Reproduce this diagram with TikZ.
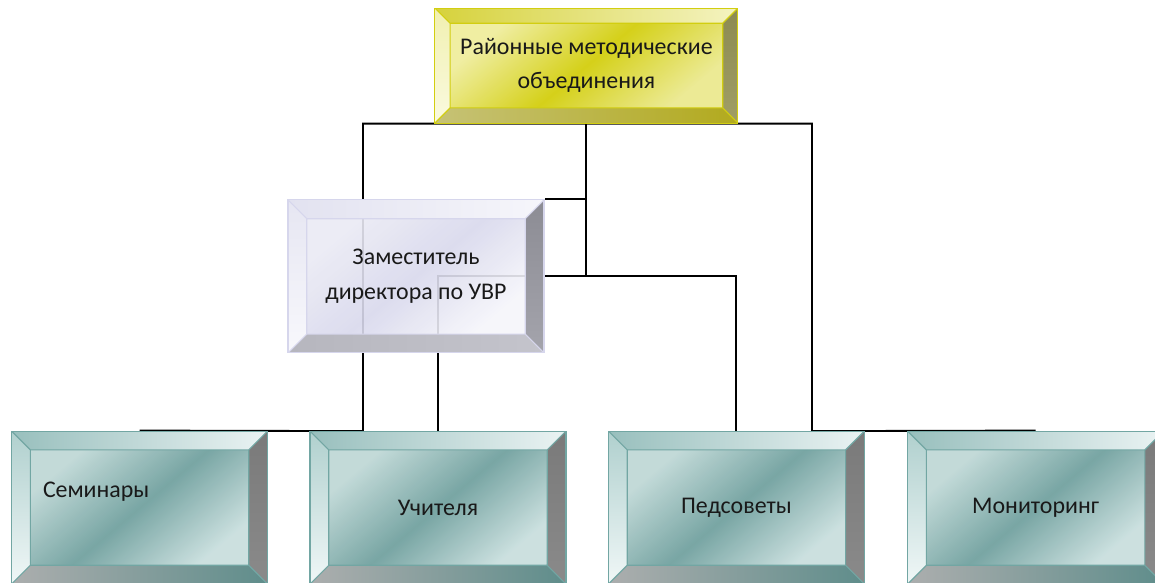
\documentclass[tikz,border=0pt]{standalone}
\usepackage{fontspec}
\setmainfont{Carlito}
\usepackage{tikz}
\usetikzlibrary{calc}

% colour sets: yel = top box, lav = deputy box, tea = lower row
\definecolor{yelFaceA}{HTML}{EEEC98}
\definecolor{yelFaceB}{HTML}{D0CB00}
\definecolor{yelFaceC}{HTML}{EAE88A}
\definecolor{yelTopA}{HTML}{D6D23C}
\definecolor{yelTopB}{HTML}{F4F3C0}
\definecolor{yelLeftA}{HTML}{F1F0B0}
\definecolor{yelLeftB}{HTML}{FAFAE0}
\definecolor{yelRightA}{HTML}{8C8A52}
\definecolor{yelRightB}{HTML}{A09E66}
\definecolor{yelBotA}{HTML}{C6C276}
\definecolor{yelBotB}{HTML}{B2AA1E}
\definecolor{yelEdge}{HTML}{D2CE10}

\definecolor{lavFaceA}{HTML}{EAEAF4}
\definecolor{lavFaceB}{HTML}{D8D8EC}
\definecolor{lavFaceC}{HTML}{F5F5FA}
\definecolor{lavTopA}{HTML}{E2E2F0}
\definecolor{lavTopB}{HTML}{F6F6FB}
\definecolor{lavLeftA}{HTML}{E6E6F2}
\definecolor{lavLeftB}{HTML}{F8F8FC}
\definecolor{lavRightA}{HTML}{8C8C94}
\definecolor{lavRightB}{HTML}{A4A4AC}
\definecolor{lavBotA}{HTML}{B6B6BE}
\definecolor{lavBotB}{HTML}{C4C4CC}
\definecolor{lavEdge}{HTML}{D6D6EC}

\definecolor{teaFaceA}{HTML}{BCD6D4}
\definecolor{teaFaceB}{HTML}{6A9C9A}
\definecolor{teaFaceC}{HTML}{C6DDDC}
\definecolor{teaTopA}{HTML}{98BFBD}
\definecolor{teaTopB}{HTML}{EAF3F3}
\definecolor{teaLeftA}{HTML}{B0D0CE}
\definecolor{teaLeftB}{HTML}{F0F7F7}
\definecolor{teaRightA}{HTML}{7A7A7A}
\definecolor{teaRightB}{HTML}{8A8A8A}
\definecolor{teaBotA}{HTML}{ACAEAE}
\definecolor{teaBotB}{HTML}{5F8D8B}
\definecolor{teaEdge}{HTML}{72A6A3}

\pgfdeclarelayer{background}
\pgfsetlayers{background,main}

\begin{document}
\begin{tikzpicture}[
	bevelbox/.style 2 args={draw=#1Edge, line width=0.8pt, text=black!90,
		font=\fontsize{17}{24.5}\selectfont,
		path picture={
			\coordinate (pnw) at (path picture bounding box.north west);
			\coordinate (pne) at (path picture bounding box.north east);
			\coordinate (psw) at (path picture bounding box.south west);
			\coordinate (pse) at (path picture bounding box.south east);
			\coordinate (qnw) at ($(pnw)+(#2,-#2)$);
			\coordinate (qne) at ($(pne)+(-#2,-#2)$);
			\coordinate (qsw) at ($(psw)+(#2,#2)$);
			\coordinate (qse) at ($(pse)+(-#2,#2)$);
			\shade[left color=#1FaceA, right color=#1FaceC, middle color=#1FaceB, shading angle=40, opacity=0.9] (qnw) rectangle (qse);
			\shade[left color=#1TopA, right color=#1TopB] (pnw) -- (pne) -- (qne) -- (qnw) -- cycle;
			\shade[top color=#1LeftA, bottom color=#1LeftB] (pnw) -- (qnw) -- (qsw) -- (psw) -- cycle;
			\shade[top color=#1RightA, bottom color=#1RightB] (pne) -- (pse) -- (qse) -- (qne) -- cycle;
			\shade[left color=#1BotA, right color=#1BotB] (psw) -- (qsw) -- (qse) -- (pse) -- cycle;
			\draw[#1Edge, line width=0.8pt] (qnw) rectangle (qse) (pnw) -- (qnw) (pne) -- (qne) (psw) -- (qsw) (pse) -- (qse);
		}},
	link/.style={line width=1.3pt, black}
	]
	\useasboundingbox (0,0) rectangle (28.875,14.55);
	
	\pgfmathsetmacro\boxW{6.4}
	\pgfmathsetmacro\boxH{3.825}
	\pgfmathsetmacro\rowTop{12.91}
	\pgfmathsetmacro\rowMid{7.64}
	\pgfmathsetmacro\rowLow{1.86}
	
	\node (rmo) at (14.66, \rowTop) [bevelbox={yel}{0.38cm}, minimum width=7.575cm, minimum height=2.875cm, align=center] {Районные методические\\объединения};
	
	\node (zam) at (10.40, \rowMid) [bevelbox={lav}{0.47cm}, minimum width=\boxW cm, minimum height=\boxH cm, align=center] {Заместитель\\директора по УВР};
	
	% lower row
	\node (sem) at (3.49, \rowLow) [bevelbox={tea}{0.47cm}, minimum width=\boxW cm, minimum height=\boxH cm, text width=4.83cm, align=left] {\raisebox{0.9cm}{Семинары}};
	\node (uch) at (10.95, \rowLow) [bevelbox={tea}{0.47cm}, minimum width=\boxW cm, minimum height=\boxH cm] {Учителя};
	\node (ped) at (18.41, \rowLow) [bevelbox={tea}{0.47cm}, minimum width=\boxW cm, minimum height=\boxH cm] {Педсоветы};
	\node (mon) at (25.89, \rowLow) [bevelbox={tea}{0.47cm}, minimum width=\boxW cm, minimum height=\boxH cm] {Мониторинг};
	
	\coordinate (bendL) at (9.075, {\rowLow + \boxH/2});
	\coordinate (bendR) at (20.3, {\rowLow + \boxH/2});
	
	%connectors go behind the boxes
	\begin{pgfonlayer}{background}
		\draw[link] (rmo.south) |- (zam.north east);
		\draw[link] (rmo.south) -- (rmo.south |- zam.east);
		\draw[link] (uch.north) |- (zam.east) -| (ped.north);
		\draw[link] (rmo.south) -| (bendL) -- (sem.north);
		\draw[link] (rmo.south) -| (bendR) -- (mon.north);
	\end{pgfonlayer}
\end{tikzpicture}
\end{document}
